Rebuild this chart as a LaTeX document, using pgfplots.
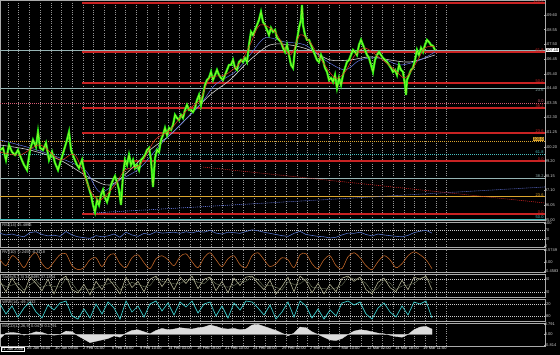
\documentclass[border=0pt]{standalone}
\usepackage{pgfplots}
\pgfplotsset{compat=1.18}
\usepackage{pgfplotstable}
\usepackage{fontspec}
\setmainfont{Liberation Sans}

\definecolor{gridc}{RGB}{150,150,150}
\definecolor{sepc}{RGB}{170,170,170}
\definecolor{pricegreen}{RGB}{40,235,20}
\definecolor{pricelight}{RGB}{190,255,60}
\definecolor{lvlred}{RGB}{200,35,35}
\definecolor{lvlgray}{RGB}{150,180,180}
\definecolor{lvlorange}{RGB}{220,165,45}
\definecolor{lvlteal}{RGB}{70,190,190}
\definecolor{lvlpink}{RGB}{215,90,115}
\definecolor{maRed}{RGB}{230,55,40}
\definecolor{maBlue}{RGB}{100,120,230}
\definecolor{maWhite}{RGB}{210,210,210}
\definecolor{rsiblue}{RGB}{85,115,200}
\definecolor{rvibrown}{RGB}{190,100,40}
\definecolor{stochc}{RGB}{175,175,145}
\definecolor{stochs}{RGB}{125,135,105}
\definecolor{wprc}{RGB}{60,200,200}
\definecolor{macdc}{RGB}{220,220,220}
\definecolor{labc}{RGB}{210,210,210}

\pgfplotstableread{
x p
0 99.98
3 100.13
6 99.27
9 100.34
12 99.84
15 99.63
18 99.98
21 99.41
24 98.92
27 98.56
30 99.98
33 100.70
36 100.20
38 101.27
40 100.13
43 99.98
46 100.48
49 99.27
52 99.84
55 99.06
58 98.56
61 99.27
64 99.98
67 100.70
69 101.27
71 99.98
74 99.41
77 98.92
79 98.70
82 99.27
85 98.20
88 97.49
91 96.78
93 96.07
95 95.57
97 96.42
99 96.07
101 96.78
103 97.14
105 96.57
107 96.28
109 96.78
111 97.49
113 97.85
115 98.13
117 97.71
119 97.14
121 96.07
123 98.20
125 99.27
127 98.92
129 99.63
131 98.92
133 99.27
135 98.70
137 98.92
139 98.56
141 99.27
143 99.41
145 99.63
147 99.98
149 100.13
151 99.27
153 97.35
155 99.41
157 99.98
159 99.84
161 100.70
163 101.05
165 101.55
167 101.05
169 101.55
171 101.41
173 101.76
175 102.48
177 102.26
179 102.12
181 102.48
183 102.26
185 102.83
187 103.19
189 102.83
191 102.83
193 102.69
195 102.97
197 103.54
199 103.90
201 103.19
203 103.90
205 104.61
207 104.97
209 105.11
211 105.54
213 104.97
215 105.32
217 105.68
219 105.32
221 105.11
223 104.97
225 105.32
227 105.68
229 106.04
231 106.04
233 106.39
235 105.82
237 105.68
239 106.25
241 106.39
243 106.25
245 106.53
247 106.25
249 107.46
251 108.39
253 108.17
255 108.53
257 108.88
259 109.24
261 109.81
263 109.10
265 108.88
267 108.53
269 108.17
271 108.67
273 108.39
275 108.53
277 107.96
279 107.82
281 107.67
283 107.25
285 106.96
287 107.46
289 106.75
291 106.04
293 105.82
295 107.10
297 107.82
299 108.67
301 109.24
302 110.31
303 108.88
305 108.17
307 107.82
309 107.82
311 107.46
313 107.10
315 106.75
317 106.39
319 106.25
321 106.75
323 106.39
325 105.82
327 105.54
329 104.97
331 105.11
333 104.83
335 105.32
337 104.40
339 105.11
341 104.61
343 105.32
345 105.82
347 106.25
349 106.39
351 106.75
353 107.10
355 106.96
357 106.75
359 107.46
361 107.82
363 107.46
365 107.10
367 106.75
369 106.53
371 106.04
373 105.54
375 106.39
377 106.75
379 106.96
381 106.75
383 106.53
385 106.39
387 106.25
389 106.04
391 105.82
393 105.54
395 105.68
397 105.32
399 106.04
401 105.68
403 105.54
405 104.61
406 103.90
407 104.97
409 105.32
411 105.68
413 105.82
415 106.39
417 107.10
419 106.75
421 107.25
423 106.96
425 107.46
427 107.82
429 107.67
431 107.46
433 107.39
435 107.10
}\pricedata

\pgfplotstableread{
x p
0 100.34
30 99.98
60 99.27
90 97.99
110 97.49
130 98.56
150 99.98
170 101.05
190 102.48
210 103.90
230 104.97
250 106.39
270 107.46
290 107.46
310 107.10
330 106.39
350 106.39
370 106.61
390 106.39
410 106.25
435 106.75
}\maslow

\pgfplotstableread{
x p
0 99.84
20 99.63
40 100.34
60 99.27
75 99.63
90 97.14
100 96.42
115 97.49
125 98.56
140 98.92
155 100.70
170 101.41
185 102.69
200 103.54
210 105.11
225 105.32
240 106.18
250 107.46
260 108.88
275 108.39
290 106.75
300 108.17
310 107.67
320 106.53
335 105.11
345 105.54
355 106.75
365 107.25
380 106.53
395 105.68
405 105.11
415 106.04
425 107.25
435 107.32
}\mafast

\pgfplotstableread{
x p
0 100.70
30 100.13
60 99.41
85 98.56
100 96.99
120 97.85
140 98.70
160 100.34
180 101.76
200 103.19
215 104.61
235 105.54
250 106.75
265 107.96
285 107.67
305 107.46
325 106.39
345 105.68
360 106.39
380 106.53
400 106.04
420 106.39
435 106.96
}\mamid

\pgfplotstableread{
x rsi rvi st sts wpr macd
0 55 0.10 70 60 -20 -0.30
6 48 -0.20 20 45 -70 0.10
12 52 0.30 85 52 -30 0.15
18 45 0.10 40 62 -85 0.10
24 40 -0.30 15 28 -40 -0.05
30 58 0.20 90 52 -10 0.05
36 62 0.45 60 75 -60 0.20
42 50 -0.10 25 42 -90 0.15
48 44 -0.35 80 52 -25 0.00
54 47 0.00 10 45 -50 -0.05
60 42 0.35 75 42 -15 0.00
66 63 0.40 95 85 -5 0.25
72 48 -0.20 30 62 -80 0.20
78 40 -0.40 15 22 -95 -0.10
84 36 -0.30 55 35 -45 -0.35
90 33 0.10 5 30 -90 -0.60
96 45 0.20 70 38 -20 -0.50
102 40 -0.25 30 50 -70 -0.40
108 44 0.25 85 58 -10 -0.30
114 52 0.40 50 68 -40 -0.10
120 38 -0.10 10 30 -95 -0.20
126 60 -0.30 90 50 -5 0.10
132 48 0.20 40 65 -60 0.30
138 42 0.35 70 55 -30 0.35
144 55 -0.05 20 45 -85 0.20
150 50 -0.35 80 50 -20 0.05
156 62 0.15 95 88 -5 0.30
162 56 0.30 45 70 -55 0.45
168 58 0.10 85 65 -15 0.35
174 60 -0.20 30 58 -75 0.40
180 55 0.25 90 60 -10 0.50
186 62 0.40 60 75 -35 0.45
192 57 0.00 95 78 -5 0.40
198 64 -0.30 35 65 -65 0.50
204 60 0.20 80 58 -20 0.55
210 68 0.45 90 85 -10 0.70
216 56 0.10 25 58 -80 0.60
222 52 -0.25 70 48 -30 0.45
228 60 0.15 15 42 -90 0.40
234 58 0.30 85 50 -15 0.45
240 55 -0.15 50 68 -50 0.35
246 63 -0.30 90 70 -5 0.40
252 70 0.30 95 92 -10 0.70
258 66 0.45 60 78 -40 0.75
264 60 0.10 30 45 -75 0.60
270 55 -0.25 75 52 -25 0.45
276 50 -0.10 10 42 -95 0.30
282 45 0.20 45 28 -60 0.10
288 42 0.10 90 68 -10 -0.10
294 55 -0.30 20 55 -85 0.10
300 64 0.35 95 58 -5 0.55
306 50 0.40 70 82 -30 0.50
312 46 -0.10 15 42 -90 0.20
318 42 -0.35 60 38 -45 0.00
324 40 0.10 10 35 -95 -0.20
330 35 0.30 55 32 -50 -0.40
336 38 -0.20 20 38 -80 -0.45
342 48 -0.35 85 52 -15 -0.30
348 56 0.25 95 90 -5 0.00
354 55 0.45 70 82 -25 0.25
360 60 0.20 90 80 -10 0.35
366 50 -0.20 30 60 -70 0.30
372 44 -0.40 10 20 -95 0.20
378 52 0.00 65 38 -40 0.10
384 48 0.30 85 75 -15 0.05
390 45 0.10 40 62 -60 -0.05
396 42 -0.30 20 30 -85 -0.15
402 40 -0.10 75 48 -30 -0.20
408 46 0.30 30 52 -75 0.00
414 58 0.50 90 60 -10 0.35
420 64 0.35 80 85 -20 0.55
426 68 0.10 95 88 -5 0.60
432 56 -0.35 30 62 -90 0.40
}\osc

\newcommand{\tinyf}{\fontsize{4}{4.2}\selectfont}

\tikzset{fib/.style={font=\tinyf, anchor=south east, inner sep=0.3pt}}

\pgfplotsset{
  panel/.style={
    scale only axis, width=545pt, xmin=0, xmax=545, clip=false,
    axis line style={sepc, line width=0.9pt},
    xtick={8,18.7,...,445}, xticklabels={},
    xmajorgrids,
    grid style={gridc, dash pattern=on 1pt off 1.3pt, line width=0.5pt},
    xtick style={draw=none},
    ytick pos=right, yticklabel pos=right,
    yticklabel style={font=\tinyf, text=labc, anchor=west, xshift=-0.8pt, inner sep=0.5pt},
    ytick style={sepc, line width=0.3pt},
    major tick length=1.2pt,
  },
  ref/.style={white!80!black, line width=0.45pt, dash pattern=on 0.8pt off 1.2pt},
}

\begin{document}
\begin{tikzpicture}
\fill[black] (0pt,0pt) rectangle (560pt,355pt);

% ---------------- main price panel
\begin{axis}[panel, at={(0pt,135pt)}, anchor=south west, height=220pt,
  ymin=95, ymax=110.66,
  ytick={95,96.05,97.10,98.15,99.20,100.20,101.25,102.30,103.35,104.40,105.40,106.45,107.50,108.55,109.60},
  yticklabels={95.00,96.05,97.10,98.15,99.20,100.20,101.25,102.30,103.35,104.40,105.40,106.45,107.50,108.55,109.60}]
% level lines
\addplot[lvlgray, line width=0.8pt] coordinates {(0,107.10) (545,107.10)};
\addplot[lvlgray, line width=0.8pt] coordinates {(0,104.40) (545,104.40)};
\addplot[lvlgray, line width=0.8pt] coordinates {(0,97.99) (545,97.99)};
\addplot[lvlorange, line width=1pt] coordinates {(0,96.64) (545,96.64)};
\addplot[lvlpink, line width=0.8pt, dash pattern=on 1pt off 1pt] coordinates {(0,103.33) (545,103.33)};
\addplot[lvlorange, line width=0.8pt, dash pattern=on 1pt off 1pt] coordinates {(0,100.62) (545,100.62)};
\addplot[lvlteal, line width=0.8pt, dash pattern=on 1pt off 1pt] coordinates {(0,99.70) (545,99.70)};
\addplot[lvlred, line width=1.3pt] coordinates {(82,110.45) (545,110.45)};
\addplot[lvlred, line width=1.3pt] coordinates {(82,106.96) (545,106.96)};
\addplot[lvlred, line width=1.3pt] coordinates {(82,104.75) (545,104.75)};
\addplot[lvlred, line width=1.3pt] coordinates {(82,102.97) (545,102.97)};
\addplot[lvlred, line width=1.3pt] coordinates {(82,101.19) (545,101.19)};
\addplot[lvlred, line width=1.3pt] coordinates {(82,99.20) (545,99.20)};
\addplot[lvlred, line width=1.3pt] coordinates {(82,95.43) (545,95.43)};
\addplot[lvlteal, line width=0.9pt] coordinates {(0,95.07) (545,95.07)};
% trend lines
\addplot[maBlue, line width=0.6pt, dash pattern=on 1pt off 1pt] coordinates {(93,95.50) (545,97.35)};
\addplot[lvlred, line width=0.6pt, dash pattern=on 1pt off 1pt] coordinates {(203,98.77) (545,96.21)};
% moving averages
\addplot[maWhite, line width=0.6pt, smooth] table[x=x,y=p]{\maslow};
\addplot[maBlue, line width=0.5pt, smooth] table[x=x,y=p]{\mamid};
\addplot[pricegreen, line width=2.2pt] table[x=x,y=p]{\pricedata};
\addplot[pricelight, line width=0.4pt] table[x=x,y=p]{\pricedata};
\addplot[maRed, line width=0.5pt, smooth] table[x=x,y=p]{\mafast};
% fib labels
\node[fib, text=lvlred] at (axis cs:544,110.45) {100.0};
\node[fib, text=lvlred] at (axis cs:544,106.96) {61.8};
\node[fib, text=lvlred] at (axis cs:544,104.75) {50.0};
\node[fib, text=lvlgray, anchor=north east] at (axis cs:544,104.40) {23.6};
\node[fib, text=lvlpink] at (axis cs:544,103.33) {0.0};
\node[fib, text=lvlred] at (axis cs:544,102.97) {38.2};
\node[fib, text=lvlred] at (axis cs:544,101.19) {23.6};
\node[fib, text=black, fill=lvlorange] at (axis cs:544,100.62) {100.0};
\node[fib, text=lvlteal] at (axis cs:544,99.70) {61.8};
\node[fib, text=lvlred] at (axis cs:544,99.20) {0.0};
\node[fib, text=lvlgray] at (axis cs:544,97.99) {38.2};
\node[fib, text=lvlorange] at (axis cs:544,96.64) {23.6};
\node[fib, text=lvlred] at (axis cs:544,95.43) {0.0};
\node[fib, text=lvlteal, anchor=east] at (axis cs:544,95.2) {50.0};
\node[font=\tinyf, fill=white, text=black, anchor=west, inner sep=0.4pt] at (axis cs:545.5,107.10) {107.10};
\end{axis}

% ---------------- RSI
\begin{axis}[panel, at={(0pt,108pt)}, anchor=south west, height=25pt,
  ymin=-4, ymax=104, ytick={0,30,70,100}, yticklabels={0,30,70,100}]
\addplot[ref] coordinates {(0,30) (545,30)};
\addplot[ref] coordinates {(0,70) (545,70)};
\addplot[rsiblue, line width=0.6pt] table[x=x,y=rsi]{\osc};
\node[font=\tinyf, text=labc, anchor=north west, inner sep=0.5pt] at (rel axis cs:0.003,0.98) {RSI(14) 45.4896};
\end{axis}

% ---------------- RVI
\begin{axis}[panel, at={(0pt,83pt)}, anchor=south west, height=23pt,
  ymin=-0.52, ymax=0.64, ytick={-0.4583,0,0.5749}, yticklabels={-0.4583,0.00,0.5749}]
\addplot[rvibrown, line width=0.6pt, smooth] table[x=x,y=rvi]{\osc};
\node[font=\tinyf, text=labc, anchor=north west, inner sep=0.5pt] at (rel axis cs:0.003,0.98) {RVI(10) -0.2459 -0.3118};
\end{axis}

% ---------------- Stochastic
\begin{axis}[panel, at={(0pt,58pt)}, anchor=south west, height=23pt,
  ymin=-5, ymax=105, ytick={20,80}, yticklabels={20,80}]
\addplot[ref] coordinates {(0,20) (545,20)};
\addplot[ref] coordinates {(0,80) (545,80)};
\addplot[stochs, line width=0.5pt, dash pattern=on 1pt off 0.6pt] table[x=x,y=sts]{\osc};
\addplot[stochc, line width=0.6pt] table[x=x,y=st]{\osc};
\node[font=\tinyf, text=labc, anchor=north west, inner sep=0.5pt] at (rel axis cs:0.003,0.98) {Stoch(5,3,3) 34.9495 37.1854};
\end{axis}

% ---------------- WPR
\begin{axis}[panel, at={(0pt,34pt)}, anchor=south west, height=22pt,
  ymin=-105, ymax=5, ytick={-80,-20}, yticklabels={-80,-20}]
\addplot[ref] coordinates {(0,-20) (545,-20)};
\addplot[ref] coordinates {(0,-80) (545,-80)};
\addplot[wprc, line width=0.7pt] table[x=x,y=wpr]{\osc};
\node[font=\tinyf, text=labc, anchor=north west, inner sep=0.5pt] at (rel axis cs:0.003,0.98) {WPR(14) -49.7332};
\end{axis}

% ---------------- MACD (with date axis)
\begin{axis}[panel, at={(0pt,9pt)}, anchor=south west, height=23pt,
  ymin=-0.85, ymax=0.85, ytick={-0.814,0,0.791}, yticklabels={-0.814,0.00,0.791},
  xmajorgrids=false,
  xtick={27,55,83,112,140,168,197,225,253,282,310,338,367,395,423},
  xticklabels={25 Jan 16:00,30 Jan 09:00,2 Feb 01:00,6 Feb 18:00,9 Feb 10:00,14 Feb 03:00,16 Feb 19:00,21 Feb 10:00,24 Feb 08:00,29 Feb 02:00,2 Mar 17:00,7 Mar 10:00,12 Mar 02:00,14 Mar 18:00,19 Mar 11:00},
  xticklabel style={font=\tinyf, text=white, anchor=north west, xshift=-0.5pt, yshift=0.3pt, inner sep=0.5pt},
  extra x ticks={8,18.7,...,445},
  extra x tick labels={},
  extra x tick style={grid=major}]
\addplot[fill=macdc, draw=macdc, line width=0.3pt] table[x=x,y=macd]{\osc} \closedcycle;
\node[font=\tinyf, text=labc, anchor=north west, inner sep=0.5pt] at (rel axis cs:0.003,0.98) {MACD(12,26,9) 0.0478 0.1791};
\node[font=\tinyf, draw=white, text=white, anchor=north west, inner sep=0.5pt] at (axis cs:0.5,-0.95) {21 Jan 2008};
\end{axis}
\pgfresetboundingbox
\path[use as bounding box] (0pt,0pt) rectangle (560pt,355pt);
\end{tikzpicture}
\end{document}
